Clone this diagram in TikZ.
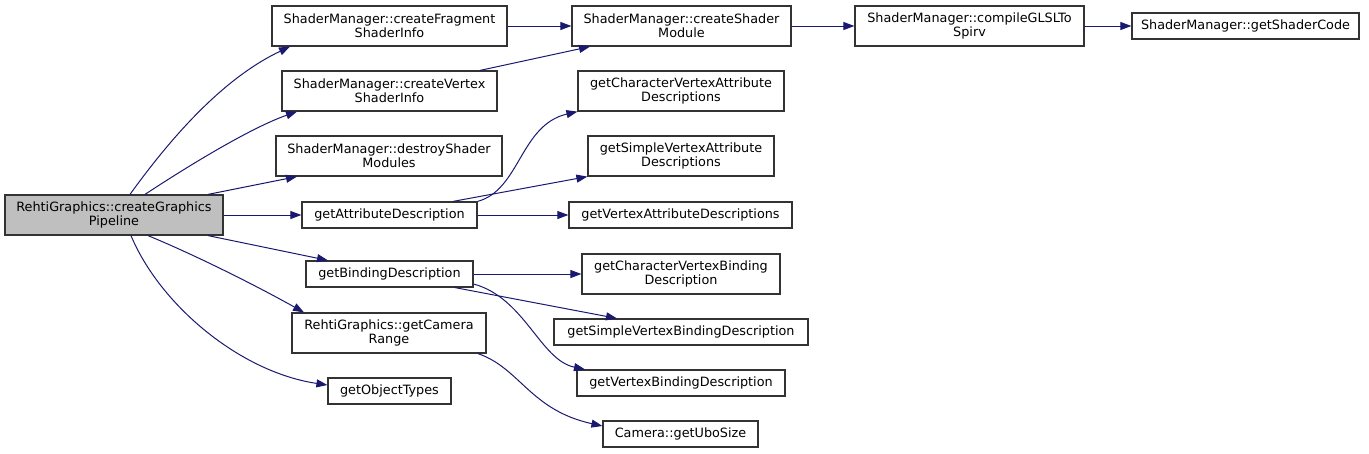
\documentclass[tikz,border=0pt]{standalone}
\usepackage{fontspec}
\setmainfont{DejaVu Sans}
\usetikzlibrary{arrows.meta}
\definecolor{edgeblue}{HTML}{191970}
\definecolor{boxborder}{HTML}{333333}
\definecolor{mainfill}{HTML}{BFBFBF}
\begin{document}
\begin{tikzpicture}[x=1pt,y=-1pt,
  fn/.style={draw=boxborder, line width=1.2pt, fill=white, inner sep=0pt, align=center,
    font=\fontsize{12.8}{14}\selectfont},
  one/.style={minimum height=26pt},
  two/.style={minimum height=40pt},
  call/.style={draw=edgeblue, line width=1pt, -{Triangle[length=11pt,width=8pt]}},
]
\useasboundingbox (0,0) rectangle (1369,453);
% nodes
\node[fn, two, minimum width=218pt, fill=mainfill] (main) at (114,215) {RehtiGraphics::createGraphics\\Pipeline};
\node[fn, two, minimum width=235pt] (frag) at (389.5,26) {ShaderManager::createFragment\\ShaderInfo};
\node[fn, two, minimum width=215pt] (vert) at (389.5,91) {ShaderManager::createVertex\\ShaderInfo};
\node[fn, two, minimum width=226pt] (destroy) at (389,156) {ShaderManager::destroyShader\\Modules};
\node[fn, one, minimum width=175pt] (attr) at (389.5,215) {getAttributeDescription};
\node[fn, one, minimum width=167pt] (bind) at (389.5,274) {getBindingDescription};
\node[fn, two, minimum width=194pt] (cam) at (389,333) {RehtiGraphics::getCamera\\Range};
\node[fn, one, minimum width=123pt] (obj) at (389.5,391) {getObjectTypes};
\node[fn, two, minimum width=219pt] (module) at (681.5,26) {ShaderManager::createShader\\Module};
\node[fn, two, minimum width=206pt] (charattr) at (681,91) {getCharacterVertexAttribute\\Descriptions};
\node[fn, two, minimum width=186pt] (simpleattr) at (681,156) {getSimpleVertexAttribute\\Descriptions};
\node[fn, one, minimum width=223pt] (vertattr) at (680.5,215) {getVertexAttributeDescriptions};
\node[fn, two, minimum width=198pt] (charbind) at (681,274) {getCharacterVertexBinding\\Description};
\node[fn, one, minimum width=254pt] (simplebind) at (681,332) {getSimpleVertexBindingDescription};
\node[fn, one, minimum width=208pt] (vertbind) at (681,383) {getVertexBindingDescription};
\node[fn, one, minimum width=155pt] (ubo) at (680.5,434) {Camera::getUboSize};
\node[fn, two, minimum width=229pt] (compile) at (969.5,26) {ShaderManager::compileGLSLTo\\Spirv};
\node[fn, one, minimum width=227pt] (code) at (1245.5,26) {ShaderManager::getShaderCode};
% edges
\draw[call] ([xshift=16pt]main.north) .. controls (180,125) and (230,75) .. ([xshift=-99.5pt]frag.south);
\draw[call] ([xshift=31pt]main.north) .. controls (185,168) and (250,128) .. ([xshift=-92.5pt]vert.south);
\draw[call] ([xshift=94pt]main.north) -- ([xshift=-92pt]destroy.south);
\draw[call] (main.east) -- (attr.west);
\draw[call] ([xshift=94pt]main.south) -- ([xshift=-61.5pt]bind.north);
\draw[call] ([xshift=34pt]main.south) .. controls (195,255) and (255,285) .. ([xshift=-85pt]cam.north);
\draw[call] ([xshift=17pt]main.south) .. controls (160,305) and (240,372) .. ([yshift=6pt]obj.west);
\draw[call] (frag.east) -- (module.west);
\draw[call] ([xshift=90.5pt]vert.north) -- ([xshift=-91.5pt]module.south);
\draw[call] (module.east) -- (compile.west);
\draw[call] (compile.east) -- (code.west);
\draw[call] (attr.north east) .. controls (520,190) and (520,125) .. (charattr.south west);
\draw[call] ([xshift=63.5pt]attr.north) -- (simpleattr.south west);
\draw[call] (attr.east) -- (vertattr.west);
\draw[call] (bind.east) -- (charbind.west);
\draw[call] ([xshift=65.5pt]bind.south) -- ([xshift=-64pt]simplebind.north);
\draw[call] ([yshift=-10pt]bind.east) .. controls (525,298) and (540,360) .. ([xshift=-96pt]vertbind.north);
\draw[call] ([xshift=89pt]cam.south) .. controls (520,368) and (530,410) .. ([yshift=8pt]ubo.west);
\end{tikzpicture}
\end{document}
